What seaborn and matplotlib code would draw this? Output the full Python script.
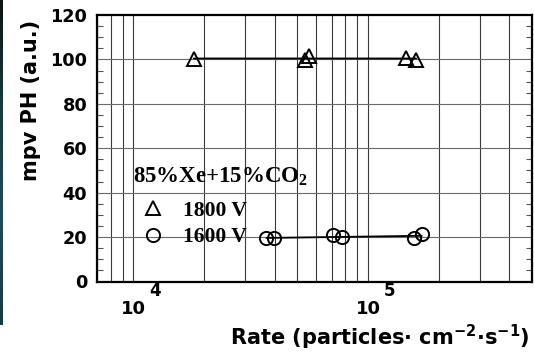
import numpy as np
import pandas as pd
import matplotlib
matplotlib.use("Agg")
import matplotlib.pyplot as plt
from matplotlib.lines import Line2D
from matplotlib.font_manager import FontProperties
from matplotlib.colors import LinearSegmentedColormap
from matplotlib.ticker import FixedLocator, MultipleLocator, NullFormatter
import seaborn as sns

# Measured most-probable pulse height vs. particle rate
rate_1800 = [1.81e4, 5.38e4, 5.58e4, 1.453e5, 1.604e5]
mpv_1800 = [100.2, 99.7, 101.6, 100.7, 99.9]
rate_1600 = [3.69e4, 3.98e4, 7.07e4, 7.72e4, 1.577e5, 1.695e5]
mpv_1600 = [19.5, 19.4, 20.9, 19.9, 19.5, 21.3]

series_labels = ["1800 V", "1600 V"]
series_markers = ["^", "o"]
gas_label = "85%Xe+15%CO$_{\\mathregular{2}}$"
y_ticks = [0, 20, 40, 60, 80, 100, 120]
x_decades = [4, 5]

df = pd.concat([
    pd.DataFrame({"rate": rate_1800, "mpv": mpv_1800, "hv": series_labels[0]}),
    pd.DataFrame({"rate": rate_1600, "mpv": mpv_1600, "hv": series_labels[1]}),
])

sns.set_style("white")
plt.rcParams["font.family"] = ["DejaVu Sans"]
plt.rcParams["font.weight"] = "bold"
for key in ("text.color", "axes.labelcolor", "xtick.color", "ytick.color"):
    plt.rcParams[key] = "black"

fig = plt.figure(figsize=(5.34, 3.53), dpi=100)
ax = fig.add_axes([97 / 534, 1 - 281.5 / 353, 435 / 534, 266.5 / 353])

# thin slide-background strip on the left edge
strip = fig.add_axes([0, 1 - 325 / 353, 3 / 534, 325 / 353])
grad = np.linspace(0, 1, 256)[:, None]
cmap = LinearSegmentedColormap.from_list("bg", ["#0c1412", "#173c44", "#1d4c5c", "#163a46"])
strip.imshow(grad, aspect="auto", cmap=cmap)
strip.axis("off")

ax.set_xscale("log")
ax.set_xlim(7000, 5e5)
ax.set_ylim(0, 120)

# grid
minor_x = [m * 10.0 ** d for d in (3, 4, 5) for m in range(2, 10)]
minor_x = [v for v in minor_x if 7000 <= v < 5e5]
for v in minor_x + [10.0 ** d for d in x_decades]:
    ax.axvline(v, color="#3a3a3a", lw=0.8, zorder=0)
for v in y_ticks[1:-1]:
    ax.axhline(v, color="#6a6a6a", lw=0.8, zorder=0)

# points and a log-x linear fit through each voltage set
for label, mk in zip(series_labels, series_markers):
    sub = df[df.hv == label]
    sns.regplot(data=sub, x="rate", y="mpv", logx=True, ci=None, scatter=False,
                truncate=True, ax=ax, line_kws=dict(color="black", lw=1.3, zorder=2))
    sns.lineplot(data=sub, x="rate", y="mpv", linestyle="none", marker=mk,
                 mfc="none", mec="black", mew=1.4, ms=9.5, color="black",
                 estimator=None, legend=False, ax=ax, zorder=3)

# axes styling
for s in ax.spines.values():
    s.set_linewidth(1.6)
    s.set_color("black")
ax.set_yticks(y_ticks)
ax.set_yticklabels([str(t) for t in y_ticks])
ax.yaxis.set_minor_locator(MultipleLocator(5))
ax.tick_params(axis="y", which="major", length=0, pad=7, labelsize=12.7)
ax.tick_params(axis="y", which="minor", direction="in", left=True, right=True,
               length=4.5, width=0.8, color="#555555")
ax.xaxis.set_major_locator(FixedLocator([10.0 ** d for d in x_decades]))
ax.xaxis.set_minor_locator(FixedLocator([]))
ax.xaxis.set_minor_formatter(NullFormatter())
ax.set_xticklabels(["10"] * len(x_decades))
ax.tick_params(axis="x", which="major", length=0, pad=13.3, labelsize=13)
for d in x_decades:
    ax.annotate(str(d), xy=(10.0 ** d, 0), xycoords=("data", "axes fraction"),
                xytext=(15.5, -7), textcoords="offset points",
                ha="center", va="center", fontsize=12, fontweight="bold")

ax.set_xlabel("")
ax.set_ylabel("mpv PH (a.u.)", fontsize=15, fontweight="bold", va="center")
ax.yaxis.set_label_coords(-0.152, 0.681)

fig.text(530 / 534, 1 - 337 / 353,
         "Rate (particles\u00b7 cm$^{\\mathregular{-2}}$\u00b7s$^{\\mathregular{-1}}$)",
         ha="right", va="center", fontsize=15, fontweight="bold")

# legend
serif = FontProperties(family="Liberation Serif", weight="bold", size=15.5)
title_font = FontProperties(family="Liberation Serif", weight="bold", size=16.5)
ax.text(0.083, 0.373, gas_label, transform=ax.transAxes, fontproperties=title_font,
        ha="left", va="baseline")
handles = [Line2D([], [], ls="none", marker=m, ms=9.5, mfc="none", mec="black", mew=1.4)
           for m in series_markers]
ax.legend(handles, series_labels, loc="center left",
          bbox_to_anchor=(0.081, 0.216), frameon=False, prop=serif,
          handlelength=1.9, handletextpad=0.45, borderpad=0,
          borderaxespad=0, labelspacing=0.29)

fig.savefig("out.png", dpi=100)
